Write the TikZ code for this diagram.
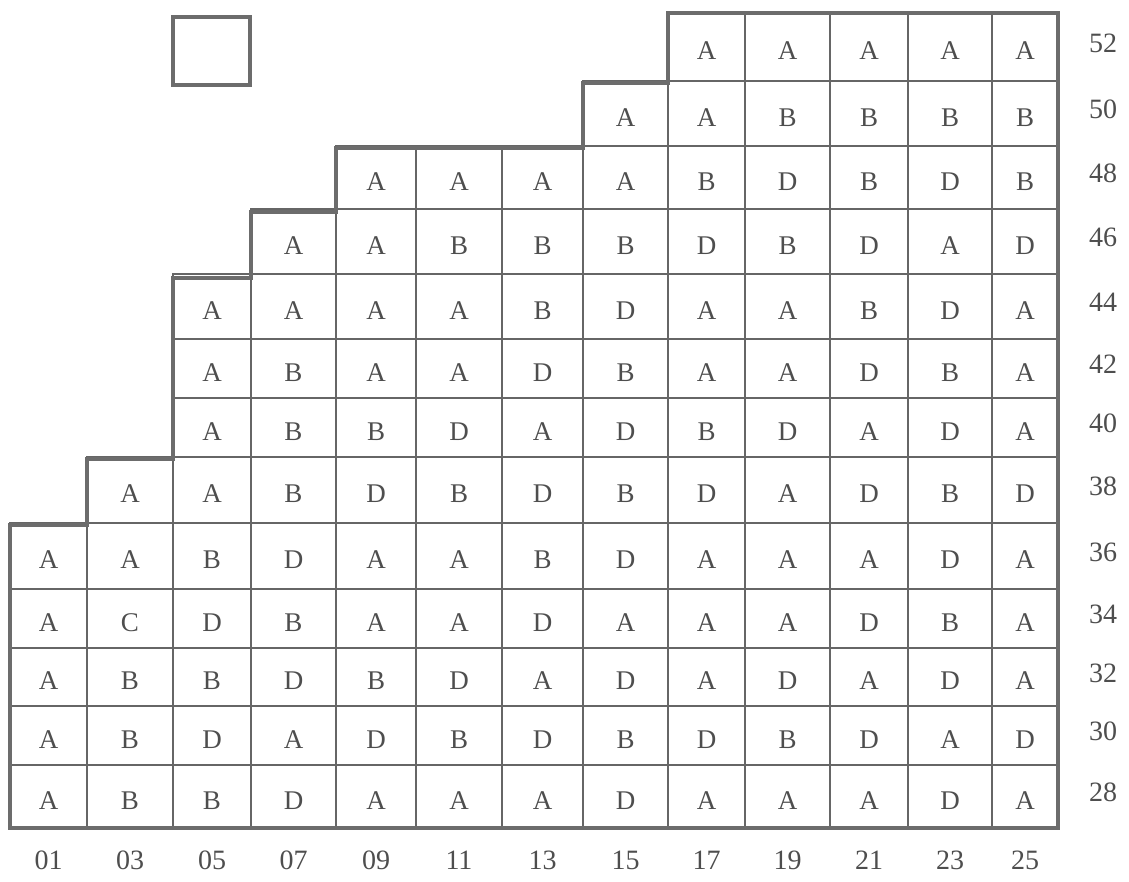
\documentclass[tikz,border=0pt]{standalone}
\usepackage{fontspec}
\setmainfont{Liberation Serif}
\definecolor{ink}{HTML}{4E4E4E}
\definecolor{gridc}{HTML}{666666}
\definecolor{borderc}{HTML}{6C6C6C}
\tikzset{
  gridline/.style={draw=gridc, line width=1.5pt},
  borderline/.style={draw=borderc, line width=4.6pt, line join=miter},
  cellletter/.style={text=ink, font=\fontsize{27}{27}\selectfont, inner sep=0pt, anchor=center},
  axislabel/.style={text=ink, font=\fontsize{28}{28}\selectfont, inner sep=0pt, anchor=center}
}
\def\colx{{10,87,173,251,336,416,502,583,668,745,830,908,992,1058}}
\def\rowy{{13,81,146,209,274,339,398,457,523,589,648,706,765,828}}
\newcommand\cellrow[3]{%
  \foreach \L [count=\k from #2] in {#3} {%
    \pgfmathsetmacro\xa{\colx[\k]}%
    \pgfmathsetmacro\xb{\colx[\k+1]}%
    \pgfmathsetmacro\ya{\rowy[#1]}%
    \pgfmathsetmacro\yb{\rowy[#1+1]}%
    \draw[gridline] (\xa,\ya) rectangle (\xb,\yb);
    \node[cellletter] (c#1-\k) at ({(\xa+\xb)/2},{(\ya+\yb)/2+4}) {\L};
  }%
}
\begin{document}
\begin{tikzpicture}[x=1pt,y=-1pt]
\useasboundingbox (0,0) rectangle (1129,881);
\fill[white] (0,0) rectangle (1129,881);
% cells
\cellrow{0}{8}{A,A,A,A,A}
\cellrow{1}{7}{A,A,B,B,B,B}
\cellrow{2}{4}{A,A,A,A,B,D,B,D,B}
\cellrow{3}{3}{A,A,B,B,B,D,B,D,A,D}
\cellrow{4}{2}{A,A,A,A,B,D,A,A,B,D,A}
\cellrow{5}{2}{A,B,A,A,D,B,A,A,D,B,A}
\cellrow{6}{2}{A,B,B,D,A,D,B,D,A,D,A}
\cellrow{7}{1}{A,A,B,D,B,D,B,D,A,D,B,D}
\cellrow{8}{0}{A,A,B,D,A,A,B,D,A,A,A,D,A}
\cellrow{9}{0}{A,C,D,B,A,A,D,A,A,A,D,B,A}
\cellrow{10}{0}{A,B,B,D,B,D,A,D,A,D,A,D,A}
\cellrow{11}{0}{A,B,D,A,D,B,D,B,D,B,D,A,D}
\cellrow{12}{0}{A,B,B,D,A,A,A,D,A,A,A,D,A}
% thick outline
\draw[borderline] (668,13) -- (1058,13) -- (1058,828) -- (10,828) -- (10,525)
  -- (87,525) -- (87,459) -- (173,459) -- (173,278) -- (251,278) -- (251,212)
  -- (336,212) -- (336,148) -- (583,148) -- (583,83) -- (668,83) -- cycle;
% small square
\draw[borderline] (173,17) rectangle (250,85);
% right labels
\foreach \lab [count=\r from 0] in {52,50,48,46,44,42,40,38,36,34,32,30,28} {
  \pgfmathsetmacro\ya{\rowy[\r]}
  \pgfmathsetmacro\yb{\rowy[\r+1]}
  \node[axislabel] (rl-\lab) at (1103,{(\ya+\yb)/2-4}) {\lab};
}
% bottom labels
\foreach \lab [count=\c from 0] in {01,03,05,07,09,11,13,15,17,19,21,23,25} {
  \pgfmathsetmacro\xa{\colx[\c]}
  \pgfmathsetmacro\xb{\colx[\c+1]}
  \node[axislabel] (bl-\lab) at ({(\xa+\xb)/2},860) {\lab};
}
\end{tikzpicture}
\end{document}
